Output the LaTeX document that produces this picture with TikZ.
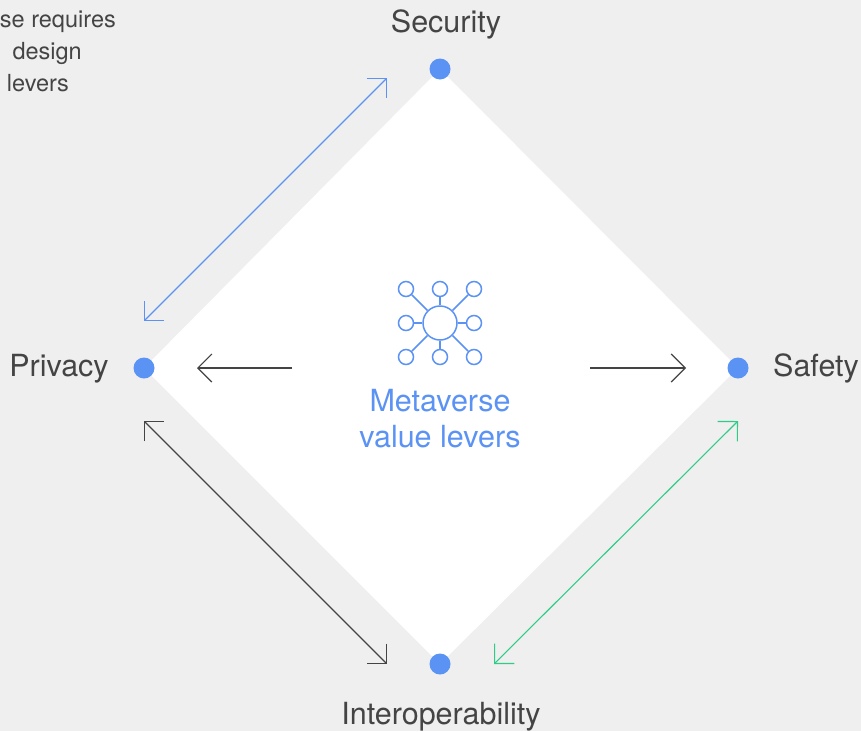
\documentclass[tikz,border=0pt]{standalone}
\usepackage{fontspec}
\setmainfont{TeX Gyre Heros}
\usetikzlibrary{arrows.meta, positioning}
\definecolor{bggray}{HTML}{EFEFEF}
\definecolor{lvblue}{HTML}{5B93F5}
\definecolor{lvgreen}{HTML}{2ECC87}
\definecolor{txtgray}{HTML}{444444}

\begin{document}
\begin{tikzpicture}[x=1pt, y=-1pt, font=\fontsize{30.5}{36}\selectfont, text=txtgray,
        dot/.style={circle, fill=lvblue, inner sep=0pt, minimum size=21pt},
        barb/.tip={Straight Barb[length=14pt, width=28pt]},
        lever/.style={line width=1.1pt, barb-barb},
        push/.style={line width=1.2pt, draw=txtgray, -barb},
        hub/.style={circle, draw=lvblue, line width=1.5pt, inner sep=0pt, minimum size=34pt},
        leaf/.style={circle, draw=lvblue, line width=1.5pt, inner sep=0pt, minimum size=15pt},
        note/.style={anchor=base east, inner sep=0pt, font=\fontsize{23.5}{28}\selectfont}]
        \fill[bggray] (0,0) rectangle (861,731);
        \useasboundingbox (0,0) rectangle (861,731);

        % corners of the diamond
        \coordinate (Sec) at (440,69);
        \coordinate (Saf) at (738,368);
        \coordinate (Int) at (440,664);
        \coordinate (Pri) at (144,368);
        \fill[white] (Sec) -- (Saf) -- (Int) -- (Pri) -- cycle;

        \node[dot] (SecDot) at (Sec) {};
        \node[dot] (SafDot) at (Saf) {};
        \node[dot] (IntDot) at (Int) {};
        \node[dot] (PriDot) at (Pri) {};

        \node[anchor=base] (SecLbl) at (446,32) {Security};
        \node[anchor=base] (PriLbl) at (59,376) {Privacy};
        \node[anchor=base] (SafLbl) at (816,376) {Safety};
        \node[anchor=base] (IntLbl) at (441,724) {Interoperability};

        \node[note] (note1) at (116,27) {se requires};
        \node[note] (note2) at (82,59) {design};
        \node[note] (note3) at (69,91) {levers};

        % icon
        \node[hub] (H) at (440,323) {};
        \foreach \i/\dx/\dy in {1/-34/-34, 2/0/-34, 3/34/-34, 4/-34/0, 5/34/0, 6/-34/34, 7/0/34, 8/34/34} {
                \node[leaf] (L\i) at (440+\dx,323+\dy) {};
                \draw[lvblue, line width=1.5pt] (H) -- (L\i);
        }
        \node[anchor=base, text=lvblue] (Meta) at (440,411) {Metaverse};
        \node[anchor=base, text=lvblue] (Val) at (440,447) {value levers};

        % arrows
        \coordinate (a1) at (387,78);
        \coordinate (a2) at (144,321);
        \coordinate (b1) at (144,421);
        \coordinate (b2) at (387,664);
        \coordinate (c1) at (738,421);
        \coordinate (c2) at (494,664);
        \coordinate (d1) at (292,368);
        \coordinate (d2) at (197,368);
        \coordinate (e1) at (590,368);
        \coordinate (e2) at (686,368);

        \draw[lever, lvblue] (a1) -- (a2);
        \draw[lever, txtgray] (b1) -- (b2);
        \draw[lever, lvgreen] (c1) -- (c2);
        \draw[push] (d1) -- (d2);
        \draw[push] (e1) -- (e2);
\end{tikzpicture}
\end{document}
